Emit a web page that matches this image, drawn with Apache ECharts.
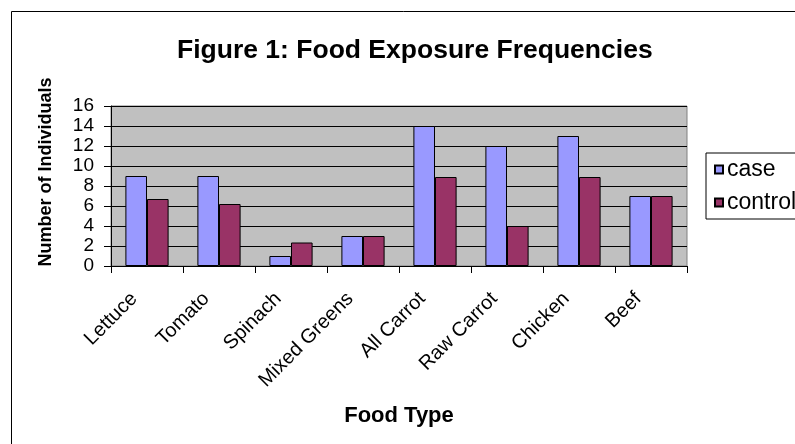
<!DOCTYPE html>
<html>
<head>
<meta charset="utf-8">
<script src="https://cdn.jsdelivr.net/npm/echarts@6/dist/echarts.min.js"></script>
<style>
  html, body { margin: 0; padding: 0; background: #ffffff; }
  #chart { width: 795px; height: 444px; }
</style>
</head>
<body>
<div id="chart"></div>
<script>
// Food exposure counts per food type, cases vs. controls
const categories = ['Lettuce', 'Tomato', 'Spinach', 'Mixed Greens', 'All Carrot', 'Raw Carrot', 'Chicken', 'Beef'];
const caseValues = [9, 9, 1, 3, 14, 12, 13, 7];
const controlValues = [6.7, 6.2, 2.35, 3, 8.9, 4, 8.9, 7];
const yTicks = { min: 0, max: 16, interval: 2 };

const FONT = 'Liberation Sans, Arial, sans-serif';

const chart = echarts.init(document.getElementById('chart'), null, { renderer: 'canvas' });

chart.setOption({
  backgroundColor: '#ffffff',
  animation: false,
  title: {
    text: 'Figure 1: Food Exposure Frequencies',
    left: 172,
    top: 32,
    textStyle: { fontFamily: FONT, fontWeight: 'bold', fontSize: 26.5, color: '#000' }
  },
  graphic: [
    {
      type: 'rect',
      shape: { x: 11.5, y: 11.5, width: 820, height: 470 },
      style: { fill: 'none', stroke: '#000', lineWidth: 1 },
      silent: true
    },
    {
      type: 'text',
      x: 46,
      y: 172,
      rotation: Math.PI / 2,
      style: {
        text: 'Number of Individuals',
        font: 'bold 18px ' + FONT,
        fill: '#000',
        textAlign: 'center',
        textVerticalAlign: 'middle'
      }
    }
  ],
  legend: {
    orient: 'vertical',
    left: 706,
    top: 153,
    padding: [5, 40, 5, 8],
    itemGap: 10,
    itemWidth: 8,
    itemHeight: 8,
    borderColor: '#000',
    borderWidth: 1,
    icon: 'rect',
    textStyle: { fontFamily: FONT, fontSize: 23, color: '#000', padding: [0, 0, 0, -1] },
    data: ['case', 'control']
  },
  grid: {
    left: 111,
    right: 108,
    top: 106,
    bottom: 178,
    show: true,
    backgroundColor: '#c0c0c0',
    borderColor: '#808080',
    borderWidth: 1
  },
  xAxis: {
    type: 'category',
    data: categories,
    name: 'Food Type',
    nameLocation: 'middle',
    nameGap: 139,
    nameTextStyle: { fontFamily: FONT, fontWeight: 'bold', fontSize: 22, color: '#000' },
    axisLine: { show: true, lineStyle: { color: '#000', width: 1 } },
    axisTick: { show: true, length: 7, lineStyle: { color: '#000' } },
    axisLabel: {
      rotate: 45,
      margin: 17,
      padding: [0, 18, 0, 0],
      fontFamily: FONT,
      fontSize: 20,
      color: '#000',
      interval: 0
    }
  },
  yAxis: {
    type: 'value',
    min: yTicks.min,
    max: yTicks.max,
    interval: yTicks.interval,
    axisLine: { show: true, lineStyle: { color: '#000', width: 1 } },
    axisTick: { show: true, length: 7, lineStyle: { color: '#000' } },
    axisLabel: { margin: 17, fontFamily: FONT, fontSize: 19, color: '#000' },
    splitLine: { show: true, lineStyle: { color: '#000', width: 1 } }
  },
  series: [
    {
      name: 'case',
      type: 'bar',
      data: caseValues,
      barGap: '0%',
      barCategoryGap: '40%',
      itemStyle: { color: '#9999ff', borderColor: '#000', borderWidth: 1 }
    },
    {
      name: 'control',
      type: 'bar',
      data: controlValues,
      itemStyle: { color: '#993366', borderColor: '#000', borderWidth: 1 }
    }
  ]
});
</script>
</body>
</html>
